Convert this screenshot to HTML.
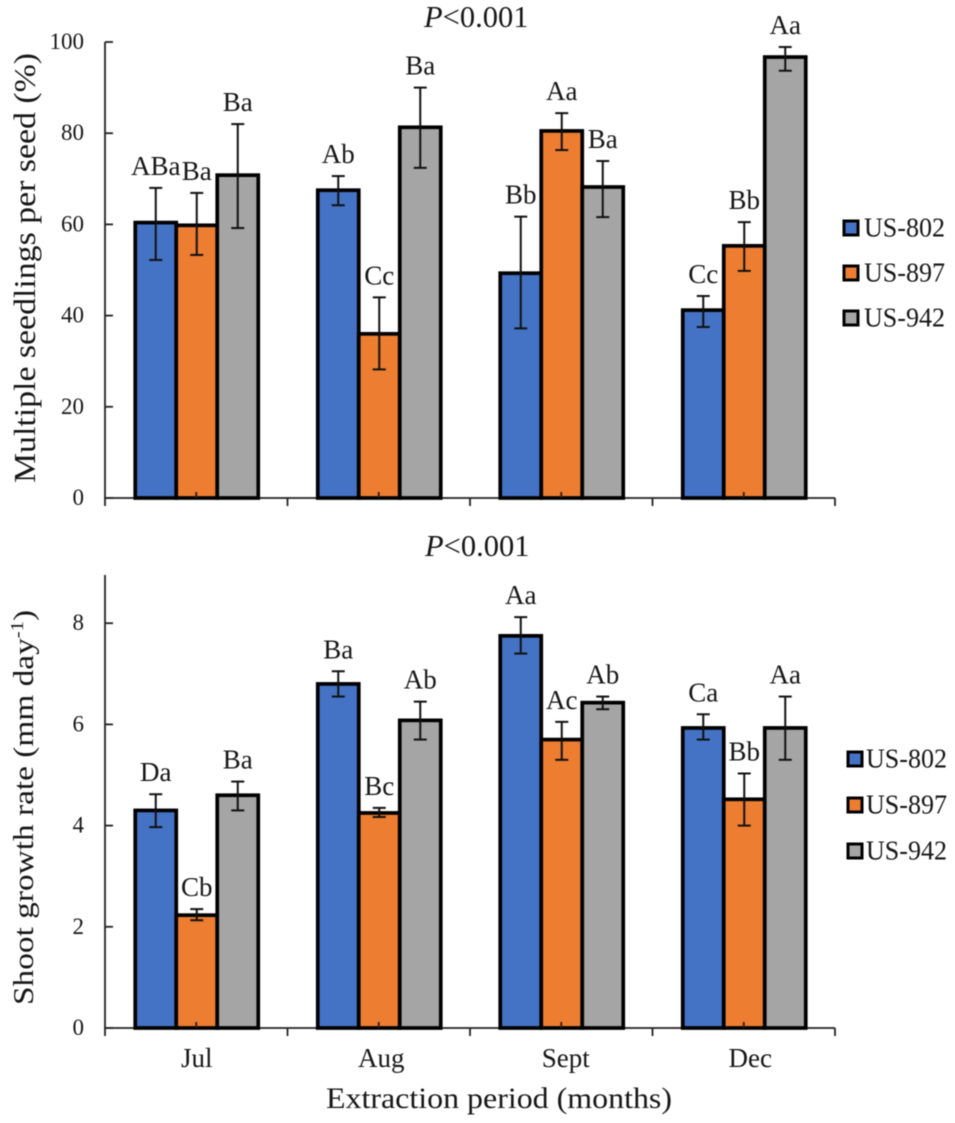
<!DOCTYPE html>
<html>
<head>
<meta charset="utf-8">
<title>Multiple seedlings and shoot growth rate</title>
<style>
html,body{margin:0;padding:0;background:#fff;}
svg{display:block;filter:blur(0.45px);}
text{font-family:"Liberation Serif",serif;fill:#161616;}
</style>
</head>
<body>
<svg id="chart" xmlns="http://www.w3.org/2000/svg" width="955" height="1123" viewBox="0 0 955 1123"></svg>
<script>
const categories = ['Jul', 'Aug', 'Sept', 'Dec'];
const seriesNames = ['US-802', 'US-897', 'US-942'];
const seriesColors = ['#4472C4', '#ED7D31', '#A5A5A5'];

const topTicks = [0, 20, 40, 60, 80, 100];
const topUS802 = [60.4, 67.5, 49.3, 41.2];
const topUS897 = [59.8, 36.0, 80.5, 55.3];
const topUS942 = [70.8, 81.3, 68.2, 96.7];
const topHigh802 = [68.0, 70.6, 61.7, 44.3];
const topHigh897 = [66.9, 44.0, 84.4, 60.5];
const topHigh942 = [82.0, 90.0, 73.9, 98.9];
const topLow802 = [52.2, 64.2, 37.2, 37.5];
const topLow897 = [53.3, 28.2, 76.3, 49.8];
const topLow942 = [59.2, 72.4, 61.6, 93.7];
const topLabels802 = ['ABa', 'Ab', 'Bb', 'Cc'];
const topLabels897 = ['Ba', 'Cc', 'Aa', 'Bb'];
const topLabels942 = ['Ba', 'Ba', 'Ba', 'Aa'];

const bottomTicks = [0, 2, 4, 6, 8];
const bottomUS802 = [4.30, 6.80, 7.75, 5.93];
const bottomUS897 = [2.23, 4.25, 5.70, 4.52];
const bottomUS942 = [4.60, 6.08, 6.43, 5.93];
const bottomHigh802 = [4.62, 7.05, 8.12, 6.20];
const bottomHigh897 = [2.35, 4.35, 6.05, 5.03];
const bottomHigh942 = [4.87, 6.45, 6.55, 6.55];
const bottomLow802 = [3.97, 6.55, 7.40, 5.70];
const bottomLow897 = [2.13, 4.17, 5.30, 4.00];
const bottomLow942 = [4.30, 5.70, 6.30, 5.30];
const bottomLabels802 = ['Da', 'Ba', 'Aa', 'Ca'];
const bottomLabels897 = ['Cb', 'Bc', 'Ac', 'Bb'];
const bottomLabels942 = ['Ba', 'Ab', 'Ab', 'Aa'];

const svg = document.getElementById('chart');
const NS = 'http://www.w3.org/2000/svg';
const axisLeft = 105, axisRight = 835, barW = 41;
const catW = (axisRight - axisLeft) / categories.length;

function make(tag, attrs, parent, content) {
  const el = document.createElementNS(NS, tag);
  for (const k in attrs) el.setAttribute(k, attrs[k]);
  if (content !== undefined) el.textContent = content;
  parent.appendChild(el);
  return el;
}
function xCenter(i) { return axisLeft + (i + 0.5) * catW + 0.5; }
function xBar(i, s) { return xCenter(i) + (s - 1.5) * barW; }

function drawPanel(cfg) {
  const y = v => cfg.y0 - v * cfg.pxPerUnit;
  const panel = make('g', {}, svg);
  
  

  const yAxis = make('line', {x1: axisLeft, x2: axisLeft, y1: cfg.axisTop, y2: cfg.y0, stroke: '#222', 'stroke-width': 1.8}, panel);
  
  
  const xAxis = make('line', {x1: axisLeft, x2: axisRight, y1: cfg.y0, y2: cfg.y0, stroke: '#222', 'stroke-width': 1.8}, panel);
  
  

  cfg.ticks.forEach(t => {
    const tick = make('line', {x1: axisLeft, x2: axisLeft + 8, y1: y(t), y2: y(t), stroke: '#222', 'stroke-width': 1.8}, panel);
    
    
    const label = make('text', {x: 84, y: y(t) + 7, 'text-anchor': 'end', 'font-size': 23}, panel, t);
    
    
  });
  for (let i = 0; i <= categories.length; i++) {
    const px = axisLeft + i * catW;
    const tick = make('line', {x1: px, x2: px, y1: cfg.y0, y2: cfg.y0 + 8, stroke: '#222', 'stroke-width': 1.8}, panel);
    
    
  }

  cfg.values.forEach((vals, s) => {
    vals.forEach((v, i) => {
      const bar = make('rect', {x: xBar(i, s), y: y(v), width: barW, height: cfg.y0 - y(v), fill: seriesColors[s], stroke: '#000', 'stroke-width': 3.7}, panel);
      
      
    });
  });
  categories.forEach((c, i) => {
    const mark = make('line', {x1: xCenter(i) - 0.5, x2: xCenter(i) - 0.5, y1: cfg.y0 - 6, y2: cfg.y0, stroke: '#331a10', 'stroke-width': 1.8}, panel);
    
    
  });

  cfg.values.forEach((vals, s) => {
    vals.forEach((v, i) => {
      const cx = xBar(i, s) + barW / 2;
      const yHi = y(cfg.high[s][i]), yLo = y(cfg.low[s][i]);
      const err = make('g', {stroke: '#111', 'stroke-width': 2, fill: 'none'}, panel);
      
      
      make('line', {x1: cx, x2: cx, y1: yHi, y2: yLo}, err);
      make('line', {x1: cx - 6.5, x2: cx + 6.5, y1: yHi, y2: yHi}, err);
      make('line', {x1: cx - 6.5, x2: cx + 6.5, y1: yLo, y2: yLo}, err);
      const sig = make('text', {x: cx, y: yHi - 13, 'text-anchor': 'middle', 'font-size': 27}, panel, cfg.labels[s][i]);
      
      
    });
  });

  const title = make('text', {x: cfg.titleX, y: cfg.titleY, 'font-size': 30.5}, panel);
  
  
  make('tspan', {'font-style': 'italic'}, title, 'P');
  make('tspan', {}, title, '<0.001');

  seriesNames.forEach((n, s) => {
    const rowY = cfg.legendY + s * cfg.legendGap;
    const swatch = make('rect', {x: cfg.legendX, y: rowY - 7, width: 14, height: 14, fill: seriesColors[s], stroke: '#000', 'stroke-width': 3}, panel);
    
    
    const text = make('text', {x: cfg.legendTextX, y: rowY + 8.5, 'font-size': 27, textLength: 81, lengthAdjust: 'spacingAndGlyphs'}, panel, n);
    
    
  });
}

drawPanel({
  name: 'multiple-seedlings-chart', y0: 498, pxPerUnit: 4.56, axisTop: 42, ticks: topTicks,
  values: [topUS802, topUS897, topUS942],
  high: [topHigh802, topHigh897, topHigh942],
  low: [topLow802, topLow897, topLow942],
  labels: [topLabels802, topLabels897, topLabels942],
  titleX: 424, titleY: 27, legendX: 844, legendTextX: 864, legendY: 228, legendGap: 45
});
drawPanel({
  name: 'shoot-growth-chart', y0: 1028, pxPerUnit: 50.6, axisTop: 575, ticks: bottomTicks,
  values: [bottomUS802, bottomUS897, bottomUS942],
  high: [bottomHigh802, bottomHigh897, bottomHigh942],
  low: [bottomLow802, bottomLow897, bottomLow942],
  labels: [bottomLabels802, bottomLabels897, bottomLabels942],
  titleX: 425, titleY: 556, legendX: 848, legendTextX: 866, legendY: 759, legendGap: 46
});

categories.forEach((c, i) => {
  const label = make('text', {x: xCenter(i) + i * 2, y: 1067, 'text-anchor': 'middle', 'font-size': 27}, svg, c);
  
  
});

const xTitle = make('text', {x: 326, y: 1108, 'font-size': 30, textLength: 346, lengthAdjust: 'spacingAndGlyphs'}, svg, 'Extraction period (months)');



const yTitleTop = make('text', {transform: 'translate(35,483) rotate(-90)', 'font-size': 31, textLength: 430, lengthAdjust: 'spacingAndGlyphs'}, svg, 'Multiple seedlings per seed (%)');



const yTitleBottom = make('text', {transform: 'translate(33,1005) rotate(-90) scale(1.15,1)', 'font-size': 29}, svg);


make('tspan', {}, yTitleBottom, 'Shoot growth rate (mm day');
make('tspan', {'font-size': 18, dy: -10}, yTitleBottom, '-1');
make('tspan', {dy: 10}, yTitleBottom, ')');
</script>
</body>
</html>
